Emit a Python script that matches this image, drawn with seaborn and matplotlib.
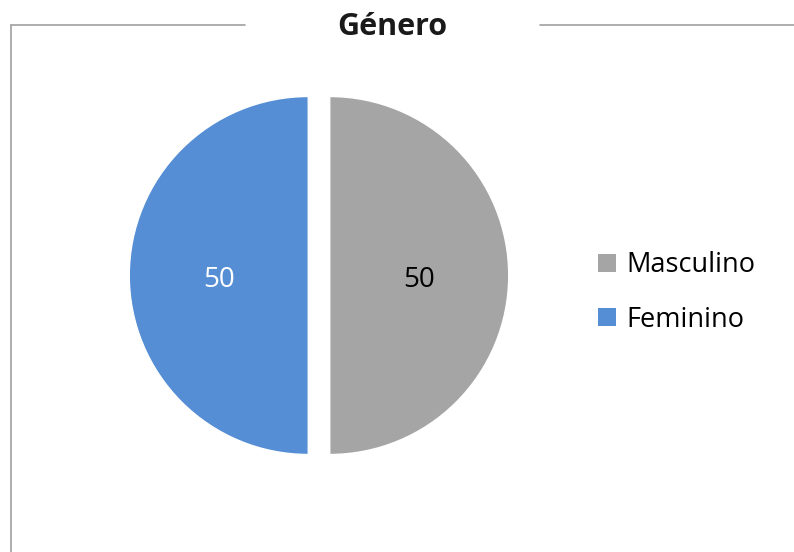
import matplotlib
matplotlib.use("Agg")
import numpy as np
import matplotlib.pyplot as plt
import seaborn as sns
from matplotlib.lines import Line2D
from matplotlib.patches import Patch

# data
categorias = ['Masculino', 'Feminino']
valores = [50, 50]
cores = ['#A5A5A5', '#558ED5']
cor_rotulos = ['black', 'white']

sns.set_theme(style='white')
plt.rcParams['font.family'] = ['Open Sans', 'DejaVu Sans']

W, H = 794, 552
fig = plt.figure(figsize=(W / 100, H / 100), dpi=100)

# pie placement (pixel centre and radius from the reference)
cx, cy, r = 319, 275.5, 179
L = 1.2
side = 2 * L * r
ax = fig.add_axes([(cx - side / 2) / W, (H - cy - side / 2) / H, side / W, side / H])

wedges, textos = ax.pie(valores, colors=cores, startangle=90, counterclock=False,
                        explode=[0.06, 0.06], labels=None, labeldistance=None)
for w, v, c in zip(wedges, valores, cor_rotulos):
    ang = np.deg2rad((w.theta1 + w.theta2) / 2)
    x0, y0 = w.center
    ax.text(x0 + 0.5 * np.cos(ang), y0 + 0.5 * np.sin(ang) - 0.027, str(v),
            ha='center', va='center', fontsize=20, color=c)
ax.set_xlim(-L, L)
ax.set_ylim(-L, L)
ax.set_aspect('equal')
ax.axis('off')

# title
fig.text(392 / W, 1 - 27 / H, 'Género', ha='center', va='center',
         fontsize=22, fontweight='bold', color='#1a1a1a')

# chart frame (partly visible, broken by the title)
ty = 1 - 25 / H
lx = 11 / W
cor_borda = '#A0A0A0'
fig.add_artist(Line2D([lx, 245 / W], [ty, ty], color=cor_borda, lw=1.2))
fig.add_artist(Line2D([540 / W, 1], [ty, ty], color=cor_borda, lw=1.2))
fig.add_artist(Line2D([lx, lx], [ty, 0], color=cor_borda, lw=1.2))

# legend
handles = [Patch(facecolor=c, edgecolor='none') for c in cores]
leg = fig.legend(handles, categorias, loc='center left', bbox_to_anchor=(598 / W, 1 - 292.5 / H),
                 frameon=False, fontsize=19.5, handlelength=0.67, handleheight=0.67,
                 handletextpad=0.37, labelspacing=0.97, borderpad=0, borderaxespad=0)
for t in leg.get_texts():
    t.set_color('black')

fig.savefig('out.png', dpi=100, facecolor='white')
